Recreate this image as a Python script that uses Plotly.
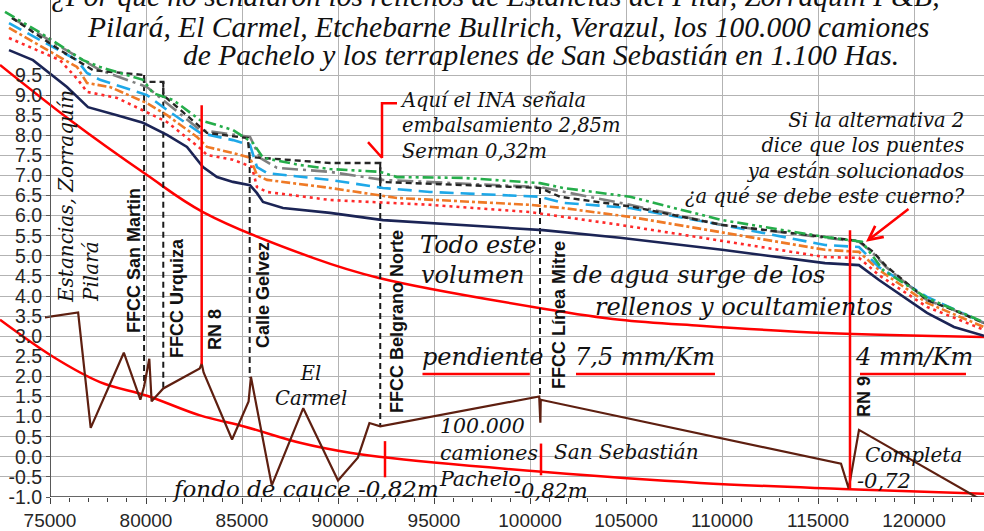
import plotly.graph_objects as go

# ---------------- axis / tick data ----------------
x_range = [72396, 123646]
y_range = [-1.0, 11.366]
x_tick_vals = [75000, 80000, 85000, 90000, 95000, 100000, 105000, 110000, 115000, 120000]
x_tick_text = ["75000", "80000", "85000", "90000", "95000", "100000", "105000", "110000", "115000", "120000"]
x_minor_vals = [76000, 77000, 78000, 79000, 81000, 82000, 83000, 84000, 86000, 87000, 88000, 89000,
                91000, 92000, 93000, 94000, 96000, 97000, 98000, 99000, 101000, 102000, 103000, 104000,
                106000, 107000, 108000, 109000, 111000, 112000, 113000, 114000, 116000, 117000, 118000,
                119000, 121000, 122000, 123000]
y_tick_vals = [-1.0, -0.5, 0.0, 0.5, 1.0, 1.5, 2.0, 2.5, 3.0, 3.5, 4.0, 4.5, 5.0, 5.5, 6.0, 6.5, 7.0,
               7.5, 8.0, 8.5, 9.0, 9.5]
y_tick_text = ["-1.0", "-0.5", "0.0", "0.5", "1.0", "1.5", "2.0", "2.5", "3.0", "3.5", "4.0", "4.5",
               "5.0", "5.5", "6.0", "6.5", "7.0", "7.5", "8.0", "8.5", "9.0", "9.5"]

# ---------------- series ----------------
bed_x = [74741, 76466, 77120, 78845, 79707, 79900, 80172, 80293, 80900, 82800, 82900, 83000, 84482,
         85344, 85465, 86551, 88189, 90000, 91033, 91637, 92200, 100480, 100540, 100560, 116198,
         116600, 117135, 123646]
bed_y = [3.47, 3.59, 0.72, 2.59, 1.42, 1.75, 2.44, 1.38, 1.70, 2.20, 2.32, 2.10, 0.43,
         1.38, 1.99, -0.71, 1.21, -0.59, -0.02, 0.84, 0.76, 1.50, 0.85, 1.42, -0.17,
         -0.79, 0.67, -1.11]

navy_x = [72865, 74115, 75885, 76667, 76979, 78490, 79844, 81094, 82135, 82969, 83698, 84531, 85417,
          85781, 86094, 87135, 89583, 92344, 96510, 100677, 104688, 110000, 115365, 117135, 118177,
          119427, 120677, 122083, 123646]
navy_y = [10.12, 9.87, 9.20, 8.83, 8.70, 8.50, 8.31, 8.01, 7.71, 7.21, 6.96, 6.84, 6.76,
          6.56, 6.34, 6.19, 6.07, 5.89, 5.77, 5.64, 5.45, 5.15, 4.82, 4.77, 4.40,
          3.98, 3.58, 3.23, 3.01]

reddot_x = [72865, 75521, 76458, 76927, 78490, 80052, 81094, 82813, 83177, 84531, 85521, 85781, 86302,
            89583, 94792, 100000, 104688, 115365, 117135, 118177, 120677, 123646]
reddot_y = [10.42, 9.87, 9.38, 9.08, 8.93, 8.58, 8.33, 7.68, 7.51, 7.39, 7.21, 6.71, 6.59,
            6.39, 6.27, 6.09, 5.77, 4.97, 4.95, 4.52, 3.73, 3.16]

orange_x = [72865, 76406, 76927, 78125, 80052, 81094, 82656, 83177, 84531, 85417, 85781, 86302, 89583,
            93073, 100000, 101719, 105208, 115365, 117135, 118177, 120677, 123646]
orange_y = [10.67, 9.70, 9.30, 9.20, 8.80, 8.50, 7.96, 7.71, 7.56, 7.44, 7.01, 6.89, 6.69,
            6.44, 6.27, 6.19, 5.97, 5.15, 5.10, 4.65, 3.83, 3.23]

blue_x = [72865, 76406, 76927, 77604, 80052, 81094, 82813, 84531, 85417, 85781, 86302, 89583, 92344,
          94792, 100521, 101719, 105208, 110000, 115365, 117135, 118177, 120677, 123646]
blue_y = [10.79, 9.87, 9.55, 9.38, 9.00, 8.63, 8.06, 7.88, 7.76, 7.21, 7.06, 6.89, 6.69,
          6.59, 6.47, 6.32, 6.19, 5.77, 5.27, 5.22, 4.72, 3.98, 3.33]

grey_x = [73021, 77604, 80052, 81094, 82813, 85417, 85938, 86823, 89583, 92344, 100521, 105208, 110000,
          116250, 117135, 117865, 118542, 120677, 122083, 123646]
grey_y = [10.92, 9.62, 9.20, 8.80, 8.13, 7.96, 7.44, 7.19, 7.09, 6.89, 6.71, 6.27, 5.77,
          5.40, 5.35, 5.07, 4.72, 3.90, 3.65, 3.33]

black_x = [73021, 75521, 77240, 79900, 79900, 80900, 80900, 83177, 85300, 85400, 89583, 92200, 92200,
           100521, 101563, 105365, 110000, 116250, 117135, 117865, 118542, 120677, 122083, 123646]
black_y = [10.92, 10.12, 9.62, 9.50, 9.33, 9.33, 9.00, 8.06, 7.93, 7.46, 7.31, 7.31, 6.84,
           6.69, 6.47, 6.22, 5.77, 5.42, 5.37, 5.10, 4.75, 3.90, 3.65, 3.33]

green_x = [72656, 74500, 76719, 77604, 79844, 80365, 81406, 82813, 84531, 85573, 86094, 88021, 89583,
           92188, 93073, 96510, 100521, 101719, 105208, 110000, 115365, 117292, 118385, 120677, 123646]
green_y = [11.07, 10.55, 9.87, 9.70, 9.38, 9.05, 8.88, 8.38, 8.13, 7.81, 7.44, 7.26, 7.16,
           7.09, 6.96, 6.94, 6.81, 6.69, 6.47, 5.89, 5.47, 5.35, 4.65, 3.95, 3.35]

bridge_x = [79900, 79900, None, 80900, 80900, None, 85400, 85400, None, 92200, 92200, None, 100521, 100521]
bridge_y = [9.50, 1.75, None, 9.33, 1.68, None, 7.46, 1.97, None, 7.31, 0.77, None, 6.69, 1.45]

# hand-drawn red marks
red_up_x = [72396, 76042, 80052, 82969, 88698, 92135, 100781, 104688, 108854, 115365, 123646]
red_up_y = [9.75, 8.38, 7.01, 6.09, 4.95, 4.45, 3.68, 3.41, 3.26, 3.08, 2.98]
red_low_x = [72396, 75156, 77604, 80052, 82813, 85156, 88021, 90625, 92135, 100781, 108854, 116250, 123646]
red_low_y = [3.41, 2.49, 1.86, 1.52, 1.03, 0.75, 0.35, 0.10, 0.00, -0.38, -0.65, -0.80, -0.92]
rn8_x = [82900, 82900]
rn8_y = [8.75, 2.30]
rn9_x = [116667, 116667]
rn9_y = [5.64, -0.80]
tick1_x = [92448, 92448]
tick1_y = [0.39, -0.51]
tick2_x = [100573, 100573]
tick2_y = [0.33, -0.46]
under_x = [94400, 99990, None, 102396, 109635, None, 117187, 122708]
under_y = [2.06, 2.06, None, 2.06, 2.06, None, 2.06, 2.06]
ina_x = [93073, 92292, 92292, 91563]
ina_y = [8.80, 8.80, 7.44, 7.83]

# ---------------- figure ----------------
fig = go.Figure()


def add_line(x, y, color, width, dash="solid", shape="linear"):
    fig.add_trace(go.Scatter(x=x, y=y, mode="lines", hoverinfo="skip", showlegend=False,
                             line=dict(color=color, width=width, dash=dash, shape=shape)))


add_line(red_up_x, red_up_y, "#ff0000", 2.5, shape="spline")
add_line(red_low_x, red_low_y, "#ff0000", 2.5, shape="spline")
add_line(bridge_x, bridge_y, "#1a1a1a", 2, dash="6px,4px")
add_line(navy_x, navy_y, "#1b2455", 2.6)
add_line(reddot_x, reddot_y, "#ff2a2a", 2.6, dash="3px,4px")
add_line(orange_x, orange_y, "#ef7a26", 2.6, dash="dashdot")
add_line(blue_x, blue_y, "#1ea8e8", 2.6, dash="14px,7px")
add_line(grey_x, grey_y, "#7f7f7f", 2.6, dash="16px,5px,3px,5px")
add_line(black_x, black_y, "#262626", 2.4, dash="6px,4px")
add_line(green_x, green_y, "#25ad4a", 2.6, dash="11px,4px,3px,4px,3px,4px")
add_line(bed_x, bed_y, "#5e1f10", 2.2)
add_line(rn8_x, rn8_y, "#ff0000", 2.5)
add_line(rn9_x, rn9_y, "#ff0000", 2.5)
add_line(tick1_x, tick1_y, "#ff0000", 2.5)
add_line(tick2_x, tick2_y, "#ff0000", 2.5)
add_line(under_x, under_y, "#ff0000", 2.5)
add_line(ina_x, ina_y, "#ff0000", 2.5)

FIG_W, FIG_H, PLOT_H = 984, 531, 497
SERIF = "DejaVu Serif"
TITLE = "Liberation Serif"
SANS = "Liberation Sans, Arial"


def ann(text, px, py, size, xanchor="left", yanchor="middle", angle=0, family=SERIF, align="left",
        color="#111111"):
    fig.add_annotation(text=text, xref="paper", yref="paper", x=px / FIG_W, y=(PLOT_H - py) / PLOT_H,
                       xanchor=xanchor, yanchor=yanchor, textangle=angle, showarrow=False, align=align,
                       font=dict(family=family, size=size, color=color))


# title (first line partly cut off at the top, as in the source picture)
ann("<i>¿Por qué no señalaron los rellenos de Estancias del Pilar, Zorraquín P&B,</i>", 495, -4, 29.5,
    xanchor="center", family=TITLE, align="center")
ann("<i>Pilará, El Carmel, Etchebarne Bullrich, Verazul, los 100.000 camiones</i>", 508, 27, 29.5,
    xanchor="center", family=TITLE, align="center")
ann("<i>de Pachelo y los terraplenes de San Sebastián en 1.100 Has.</i>", 541, 55, 29.5,
    xanchor="center", family=TITLE, align="center")

ann("<i>Aquí el INA señala<br>embalsamiento 2,85m<br>Serman 0,32m</i>", 398, 126, 19.5)
ann("<i>Si la alternativa 2<br>dice que los puentes<br>ya están solucionados<br>¿a qué se debe este cuerno?</i>",
    967, 158, 19.5, xanchor="right", align="right")
ann("<i>Estancias, Zorraquín</i>", 66, 197, 20, xanchor="center", angle=-90)
ann("<i>Pilará</i>", 91, 272, 20, xanchor="center", angle=-90)
ann("<i>Todo este</i>", 418, 245, 24)
ann("<i>volumen</i>", 419, 275, 24)
ann("<i>de agua surge de los</i>", 571, 275, 24)
ann("<i>rellenos y ocultamientos</i>", 593, 307, 24)
ann("<i>pendiente</i>", 420, 357, 24)
ann("<i>7,5 mm/Km</i>", 573, 357, 24)
ann("<i>4 mm/Km</i>", 853, 357, 24)
ann("<i>El<br>Carmel</i>", 311, 386, 19.5, xanchor="center", align="center")
ann("<i>fondo de cauce -0,82m</i>", 170, 489, 23)
ann("<i>100.000<br>camiones<br>Pachelo</i>", 437, 452, 20.5)
ann("<i>-0,82m</i>", 512, 491, 21)
ann("<i>San Sebastián</i>", 552, 452, 20)
ann("<i>Completa</i>", 863, 455, 20)
ann("<i>-0,72</i>", 855, 481, 21)

# bridge labels
for label, px, py in [("FFCC San Martin", 134, 261), ("FFCC Urquiza", 177, 298), ("RN 8", 215, 330),
                      ("Calle Gelvez", 263, 295), ("FFCC Belgrano Norte", 397, 322),
                      ("FFCC Línea Mitre", 559, 315), ("RN 9", 864, 397)]:
    ann("<b>" + label + "</b>", px, py, 18, xanchor="center", angle=-90, family=SANS)

# arrow pointing at the "cuerno"
fig.add_annotation(x=117500, y=5.35, xref="x", yref="y", ax=44, ay=-34, text="", showarrow=True,
                   arrowhead=5, arrowsize=1.1, arrowwidth=2.5, arrowcolor="#ff0000", standoff=0)

fig.update_layout(
    width=FIG_W, height=FIG_H,
    margin=dict(l=0, r=0, t=0, b=FIG_H - PLOT_H, pad=0),
    plot_bgcolor="white", paper_bgcolor="white", showlegend=False,
    xaxis=dict(range=x_range, tickmode="array", tickvals=x_tick_vals, ticktext=x_tick_text,
               ticks="outside", ticklen=6, tickcolor="#404040", showline=False, zeroline=False,
               showgrid=True, gridcolor="#b3b3b3", gridwidth=1, automargin=False,
               tickfont=dict(family=SANS, size=19, color="#262626"),
               minor=dict(tickmode="array", tickvals=x_minor_vals, ticks="outside", ticklen=4,
                          tickcolor="#404040", showgrid=False)),
    yaxis=dict(range=y_range, anchor="free", position=50 / FIG_W, tickmode="array",
               tickvals=y_tick_vals, ticktext=y_tick_text, ticks="outside", ticklen=4,
               tickcolor="#595959", showline=True, linecolor="#595959", linewidth=1.2,
               zeroline=False, showgrid=True, gridcolor="#b3b3b3", gridwidth=1, automargin=False,
               tickfont=dict(family=SANS, size=19.5, color="#262626")),
    shapes=[
        dict(type="rect", xref="paper", yref="paper", x0=0.004, x1=0.046, y0=0, y1=1,
             fillcolor="white", line=dict(width=0), layer="between"),
        dict(type="line", xref="x", yref="y", x0=75000, x1=x_range[1], y0=-1.0, y1=-1.0,
             line=dict(color="#333333", width=1.5)),
    ],
)

fig.write_html("out.html", config={"displayModeBar": False},
               post_script="document.body.style.margin='0';document.body.style.overflow='hidden';")
